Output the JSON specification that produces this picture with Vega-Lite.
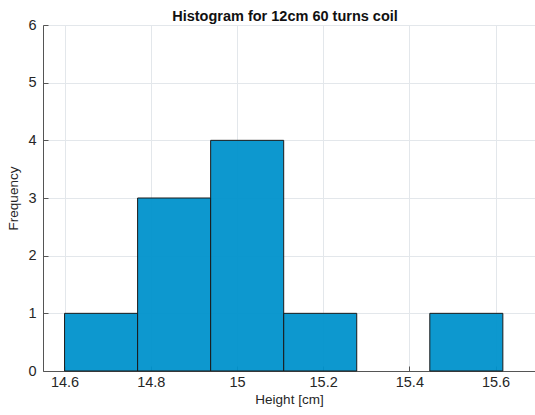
{
  "$schema": "https://vega.github.io/schema/vega-lite/v6.json",
  "width": 492,
  "height": 346,
  "autosize": {"type": "none"},
  "padding": {"left": 43, "top": 25, "right": 0, "bottom": 44},
  "background": "white",
  "title": {
    "text": "Histogram for 12cm 60 turns coil",
    "font": "Liberation Sans",
    "fontSize": 14.5,
    "fontWeight": "bold",
    "color": "#111111",
    "anchor": "middle",
    "offset": -7,
    "dx": -4
  },
  "config": {
    "view": {"stroke": "#d0d4d8", "strokeWidth": 1},
    "axis": {
      "labelFont": "Liberation Sans",
      "titleFont": "Liberation Sans",
      "labelFontSize": 14.5,
      "titleFontSize": 13.5,
      "titleFontWeight": "normal",
      "labelColor": "#262626",
      "titleColor": "#262626",
      "domainColor": "#555555",
      "tickColor": "#555555",
      "gridColor": "#e3e7eb",
      "gridOpacity": 1,
      "tickSize": -5
    }
  },
  "data": {
    "values": [
      {"bin_start": 14.6, "bin_end": 14.7695, "count": 1},
      {"bin_start": 14.7695, "bin_end": 14.939, "count": 3},
      {"bin_start": 14.939, "bin_end": 15.1085, "count": 4},
      {"bin_start": 15.1085, "bin_end": 15.278, "count": 1},
      {"bin_start": 15.4475, "bin_end": 15.617, "count": 1}
    ]
  },
  "mark": {"type": "rect", "fill": "#0092cc", "stroke": "#1a1a1a", "strokeWidth": 1, "fillOpacity": 0.95},
  "encoding": {
    "x": {
      "field": "bin_start",
      "type": "quantitative",
      "scale": {"domain": [14.55, 15.6916], "nice": false, "zero": false},
      "axis": {
        "values": [14.6, 14.8, 15, 15.2, 15.4, 15.6],
        "format": "~g",
        "title": "Height [cm]",
        "labelPadding": 9,
        "titlePadding": 4,
        "grid": true
      }
    },
    "x2": {"field": "bin_end"},
    "y": {
      "field": "count",
      "type": "quantitative",
      "scale": {"domain": [0, 6], "nice": false},
      "axis": {
        "values": [0, 1, 2, 3, 4, 5, 6],
        "title": "Frequency",
        "labelPadding": 12,
        "titlePadding": 7,
        "grid": true
      }
    },
    "y2": {"datum": 0}
  }
}
